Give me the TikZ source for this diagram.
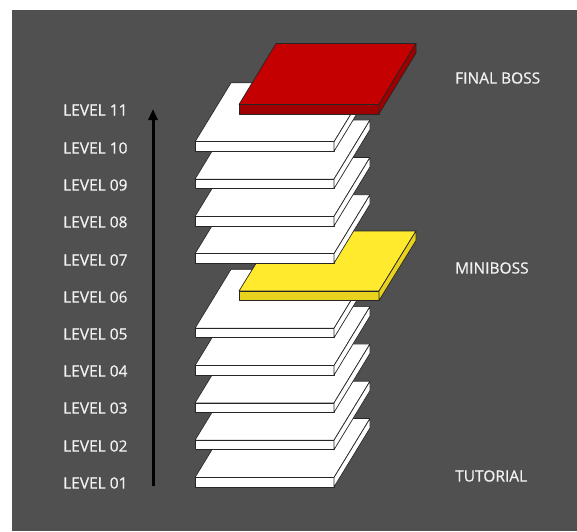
\documentclass[tikz,border=0pt]{standalone}
\usepackage{fontspec}
\setmainfont{Open Sans}
\newfontfamily\lblfont[FakeBold=0.6]{Open Sans}
\usetikzlibrary{arrows.meta}
\definecolor{bg}{HTML}{505050}
\definecolor{txt}{HTML}{F2F2F2}
\definecolor{redtop}{HTML}{C40000}
\definecolor{redside}{HTML}{A00000}
\definecolor{yeltop}{HTML}{FFEA2E}
\definecolor{yelside}{HTML}{E8D21E}
\tikzset{
  plateline/.style={draw=black!85,line width=0.7pt,line join=round},
  lbl/.style={anchor=west,inner sep=0pt,text=txt,font=\lblfont\fontsize{15.5}{18}\selectfont},
}
\newcommand\lvlplate[7]{%
  \filldraw[plateline,fill=#6] (#1,#2-9.5) -- ++(#3,0) -- ++(#4,-#5) -- ++(-#3,0) -- cycle;
  \filldraw[plateline,fill=#7] (#1,#2) rectangle ++(#3,-9.5);
  \filldraw[plateline,fill=#7] (#1+#3,#2) -- ++(#4,-#5) -- ++(0,-9.5) -- ++(-#4,#5) -- cycle;
}
\begin{document}
\begin{tikzpicture}[x=1pt,y=-1pt]
\useasboundingbox (0,0) rectangle (577,531);
\fill[white] (0,0) rectangle (577,531);
\fill[bg] (12,10) rectangle (577,531);
% plates, bottom to top
\foreach \n in {1,...,5} {
  \pgfmathsetmacro\yb{487-37.3*(\n-1)}
  \lvlplate{195}{\yb}{139}{36}{59}{white}{white}
}
\lvlplate{239}{300.5}{140}{37}{60}{yeltop}{yelside}
\foreach \n in {7,...,10} {
  \pgfmathsetmacro\yb{487-37.3*(\n-1)}
  \lvlplate{195}{\yb}{139}{36}{59}{white}{white}
}
\lvlplate{239}{114}{140}{37}{61}{redtop}{redside}
% arrow
\coordinate (abot) at (153,486);
\coordinate (atop) at (153,109);
\draw[line width=3pt,-{Triangle[width=9pt,length=11pt]}] (abot) -- (atop);
% labels
\node[lbl] (l01) at (63,483) {LEVEL 01};
\node[lbl] (l02) at (63,446) {LEVEL 02};
\node[lbl] (l03) at (63,408) {LEVEL 03};
\node[lbl] (l04) at (63,371) {LEVEL 04};
\node[lbl] (l05) at (63,334) {LEVEL 05};
\node[lbl] (l06) at (63,297) {LEVEL 06};
\node[lbl] (l07) at (63,260) {LEVEL 07};
\node[lbl] (l08) at (63,222) {LEVEL 08};
\node[lbl] (l09) at (63,185) {LEVEL 09};
\node[lbl] (l10) at (63,148) {LEVEL 10};
\node[lbl] (l11) at (63,110) {LEVEL 11};
\node[lbl] (fb) at (455,78) {FINAL BOSS};
\node[lbl] (mb) at (455,268) {MINIBOSS};
\node[lbl] (tu) at (455,476) {TUTORIAL};
\end{tikzpicture}
\end{document}
